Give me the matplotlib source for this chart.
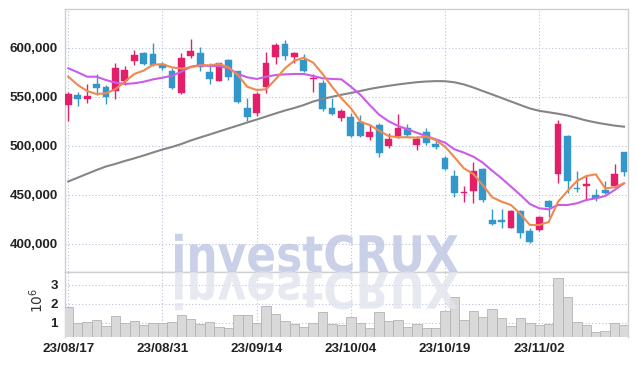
import matplotlib
matplotlib.use('Agg')
import matplotlib.pyplot as plt
from matplotlib.textpath import TextPath
from matplotlib.patches import PathPatch
from matplotlib.font_manager import FontProperties
from matplotlib.transforms import Affine2D, IdentityTransform

# daily candles 23/08/17 .. 23/11/29
opens = [541800, 552000, 548300, 563300, 559900, 556400, 566600, 587000, 595200, 594200,
         583400, 576500, 553800, 591800, 595200, 575800, 566600, 587800, 576500, 539100,
         533400, 559900, 590500, 603800, 591200, 587800, 568000, 564600, 539100, 528300,
         529900, 524800, 509500, 521400, 500300, 510200, 518700, 501000, 514000, 501700,
         487500, 469400, 451700, 454400, 476200, 424500, 423800, 416600, 433700, 413300,
         414300, 443900, 471100, 510500, 457500, 459200, 450000, 455100, 459200, 493600]
highs = [555400, 555400, 563000, 573200, 562300, 584400, 581600, 598000, 595900, 605400,
         586000, 579300, 595200, 608900, 600700, 584400, 585000, 588800, 577000, 548700,
         555400, 596300, 604800, 608000, 596300, 593900, 573200, 567000, 548700, 537400,
         533400, 531600, 521400, 523200, 513000, 532700, 522400, 510200, 518000, 506800,
         489500, 475500, 459200, 483400, 477500, 435400, 435400, 435000, 434700, 416000,
         428600, 444900, 526500, 511200, 474500, 469400, 455800, 464000, 481300, 494300]
lows = [525800, 540800, 544200, 552000, 542900, 547700, 562300, 582700, 582400, 582000,
        577600, 557900, 553100, 590000, 577000, 563300, 566000, 567300, 544000, 525800,
        530600, 553800, 584000, 587800, 584400, 575800, 555400, 536000, 531600, 525800,
        508900, 509500, 506100, 489100, 497700, 507900, 508900, 495900, 501000, 496700,
        475500, 447700, 443200, 442200, 443200, 419400, 416000, 416000, 406400, 400700,
        413600, 427900, 462000, 452400, 453300, 444900, 444200, 451000, 457900, 469000]
closes = [553100, 548300, 551000, 559500, 550300, 579300, 577600, 592900, 583400, 582700,
          579300, 559500, 589500, 596900, 581000, 568100, 584400, 570700, 545200, 529300,
          552700, 585000, 603100, 592100, 594600, 576900, 569700, 537800, 532300, 535700,
          510200, 510200, 514000, 492500, 507500, 518700, 511200, 507200, 502700, 499300,
          476500, 452400, 453300, 474500, 444900, 420400, 422800, 433700, 411500, 402400,
          427300, 438100, 522500, 464300, 456100, 461200, 446600, 451700, 471100, 473800]
volume_m = [1.83, 1.02, 1.05, 1.14, 0.84, 1.37, 1.00, 1.09, 0.89, 1.00,
            1.00, 1.05, 1.42, 1.21, 0.95, 1.04, 0.77, 0.72, 1.40, 1.40,
            0.98, 1.89, 1.46, 1.10, 0.95, 0.79, 0.98, 1.56, 0.95, 0.88,
            1.32, 1.00, 0.74, 1.56, 1.09, 1.14, 0.79, 0.93, 0.72, 0.72,
            1.62, 2.35, 1.14, 1.62, 1.32, 1.72, 1.25, 0.84, 1.25, 1.00,
            0.88, 0.93, 3.35, 2.38, 1.04, 0.88, 0.54, 0.60, 0.98, 0.88]

# moving averages
ma5 = [570700, 562300, 556100, 553000, 553800, 557900, 565600, 573500, 576900, 583000,
       583400, 580300, 578900, 580300, 582300, 582300, 583700, 580300, 572400, 560500,
       557100, 557900, 568000, 579300, 587000, 590100, 585000, 573500, 560500, 548700,
       538500, 524800, 521400, 515600, 510200, 508900, 508900, 508500, 509500, 506100,
       499300, 488500, 477200, 471400, 460200, 447700, 443200, 439800, 430600, 419400,
       419400, 422400, 443200, 454100, 464300, 469400, 471100, 456800, 457900, 461900]
ma20 = [579300, 575200, 570700, 570700, 567300, 564600, 563300, 564000, 565600, 568000,
        569700, 571700, 575800, 580900, 582600, 581600, 581600, 579300, 573500, 570100,
        568400, 570700, 572400, 573100, 573500, 573500, 571400, 569100, 568400, 568000,
        560500, 552300, 541800, 531900, 525300, 520500, 517100, 513500, 510200, 506800,
        503400, 496600, 493200, 489100, 483000, 474800, 467000, 458500, 450000, 440800,
        436400, 435400, 439800, 439800, 441500, 444900, 446600, 449000, 455100, 461900]
ma60 = [463800, 467700, 471600, 475500, 479100, 481700, 484700, 487400, 490300, 493400,
        496400, 499000, 502000, 505600, 508700, 511700, 514800, 517900, 520900, 524000,
        527000, 530100, 533200, 536200, 538800, 541800, 545400, 548000, 550200, 552300,
        554100, 556100, 558200, 559900, 561400, 562800, 564000, 565100, 565800, 566200,
        566100, 565000, 562800, 559700, 556100, 552600, 549000, 545400, 541800, 538300,
        535900, 534400, 532900, 531100, 528600, 526000, 524000, 522300, 520800, 519700]

tick_idx = [0, 10, 20, 30, 40, 50]
tick_labels = ['23/08/17', '23/08/31', '23/09/14', '23/10/04', '23/10/19', '23/11/02']
price_ticks = [400000, 450000, 500000, 550000, 600000]

UP = '#e41f69'
DOWN = '#3497c9'
GRID = '#b9c1d9'
SPINE = '#cfcfcf'
lab_font = FontProperties(family=['Liberation Sans', 'DejaVu Sans'], size=9.6,
                          weight='bold')

fig = plt.figure(figsize=(6.37, 3.66), dpi=100)
ax = fig.add_axes([65/637, 1-272/366, 563/637, 263/366])
axv = fig.add_axes([65/637, 1-337/366, 563/637, 65/366], sharex=ax)

x = list(range(len(closes)))

# candles
for i in x:
    c = UP if closes[i] >= opens[i] else DOWN
    ax.vlines(i, lows[i], highs[i], color=c, lw=1.0, zorder=3)
    lo = min(opens[i], closes[i])
    h = max(abs(closes[i] - opens[i]), 1200)
    ax.bar(i, h, bottom=lo, width=0.72, color=c, edgecolor=c, lw=0.3, zorder=3)

ax.plot(x, ma60, color='#858585', lw=1.5, zorder=4)
ax.plot(x, ma20, color='#c95ce8', lw=1.5, zorder=4)
ax.plot(x, ma5, color='#ee8a4e', lw=1.5, zorder=4)

ax.set_xlim(-0.35, 59.42)
ax.set_ylim(371400, 639800)
ax.set_yticks(price_ticks)
ax.set_yticklabels(['{:,}'.format(v) for v in price_ticks])
ax.grid(True, color=GRID, ls=(0, (1, 2)), lw=0.8)
ax.set_axisbelow(True)
ax.tick_params(axis='x', labelbottom=False, length=0)
ax.tick_params(axis='y', length=0, pad=5, labelcolor='#222222')
for t in ax.get_yticklabels():
    t.set_fontproperties(lab_font)

# volume
axv.bar(x, volume_m, width=1.0, color='#d9d9d9', edgecolor='#b3b3b3', lw=0.6, zorder=3)
axv.set_ylim(0.26, 3.68)
axv.set_yticks([1, 2, 3])
axv.set_yticklabels(['1', '2', '3'])
axv.set_xticks(tick_idx)
axv.set_xticklabels(tick_labels)
axv.grid(True, color=GRID, ls=(0, (1, 2)), lw=0.8)
axv.set_axisbelow(True)
axv.tick_params(length=0, labelcolor='#222222')
axv.tick_params(axis='y', pad=5)
axv.tick_params(axis='x', pad=4)
for t in axv.get_xticklabels() + axv.get_yticklabels():
    t.set_fontproperties(lab_font)
fig.text(37/637, 1-300/366, r'$10^6$', rotation=90, ha='center', va='center',
         fontsize=10, color='#333333')

for a in (ax, axv):
    for s in a.spines.values():
        s.set_color(SPINE)
        s.set_linewidth(1.0)
axv.spines['bottom'].set_visible(False)

# watermark with mirror image
tp = TextPath((0, 0), 'investCRUX', size=100,
              prop=FontProperties(family='DejaVu Sans', weight='bold'))
bb = tp.get_extents()
sx = 283 / bb.width
sy = 39 / bb.height
base_x, base_y = 175, 366 - 272
tr = Affine2D().translate(-bb.x0, 0).scale(sx, sy).translate(base_x, base_y)
fig.patches.append(PathPatch(tp, transform=tr + IdentityTransform(), fc='#c0c8e4',
                             ec='none', alpha=0.85, zorder=1))
tr2 = Affine2D().translate(-bb.x0, 0).scale(sx, -sy).translate(base_x, base_y)
fig.patches.append(PathPatch(tp, transform=tr2 + IdentityTransform(), fc='#e2e4ee',
                             ec='none', alpha=0.8, zorder=1))

fig.savefig('out.png', dpi=100)
